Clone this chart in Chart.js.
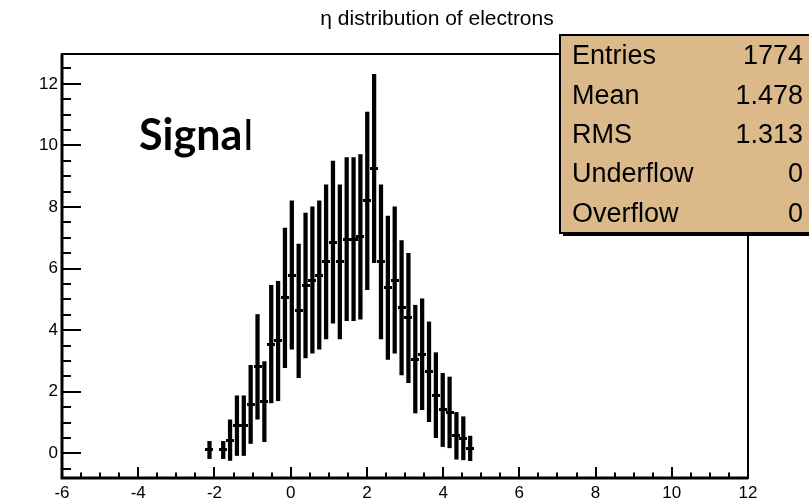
<!DOCTYPE html>
<html>
<head>
<meta charset="utf-8">
<title>η distribution of electrons</title>
<script src="https://cdn.jsdelivr.net/npm/chart.js@4.4.1/dist/chart.umd.min.js"></script>
<style>
  html, body { margin: 0; padding: 0; background: #fff; }
  #wrap { width: 809px; height: 502px; position: relative; }
</style>
</head>
<body>
<div id="wrap"><canvas id="c" width="809" height="502"></canvas></div>
<script>
// η bin centres (bin width 0.18) of the filled bins
const etaCenters = [-2.13, -1.77, -1.59, -1.41, -1.23, -1.05, -0.87, -0.69, -0.51, -0.33,
  -0.15, 0.03, 0.21, 0.39, 0.57, 0.75, 0.93, 1.11, 1.29, 1.47,
  1.65, 1.83, 2.01, 2.19, 2.37, 2.55, 2.73, 2.91, 3.09, 3.27,
  3.45, 3.63, 3.81, 3.99, 4.17, 4.35, 4.53, 4.71];

// bin contents
const binContents = [0.11, 0.11, 0.43, 0.90, 0.90, 1.59, 2.81, 1.68, 3.55, 3.65,
  5.05, 5.79, 4.63, 5.45, 5.63, 5.79, 6.22, 6.86, 6.22, 6.96,
  6.96, 7.03, 8.20, 9.25, 6.22, 5.38, 5.63, 4.73, 4.40, 3.06,
  3.22, 2.65, 1.89, 1.41, 1.33, 0.57, 0.49, 0.16];

// bin errors
const binErrors = [0.28, 0.28, 0.66, 0.97, 0.97, 1.27, 1.70, 1.30, 1.91, 1.94,
  2.27, 2.41, 2.17, 2.35, 2.38, 2.41, 2.50, 2.63, 2.50, 2.65,
  2.65, 2.67, 2.88, 3.06, 2.50, 2.33, 2.38, 2.18, 2.10, 1.75,
  1.80, 1.62, 1.38, 1.19, 1.15, 0.76, 0.70, 0.40];

// axis ranges and tick steps
const xRange = [-6, 12];
const yRange = [-0.8, 12.97];
const majorStep = 2;
const minorStep = 0.5;

// statistics box
const statLabels = ['Entries', 'Mean', 'RMS', 'Underflow', 'Overflow'];
const statValues = ['1774', '1.478', '1.313', '0', '0'];

const titleText = 'η distribution of electrons';
const FONT = '"Liberation Sans", Arial, Helvetica, sans-serif';

const errorBars = etaCenters.map((x, i) => ({ x: x, y: [binContents[i] - binErrors[i], binContents[i] + binErrors[i]] }));
const centres = etaCenters.map((x, i) => ({ x: x, y: binContents[i] }));

// short horizontal dash used as the bin-centre marker (one bin wide)
const dash = document.createElement('canvas');
dash.width = 8;
dash.height = 3;
(function () {
  const g = dash.getContext('2d');
  g.fillStyle = '#000';
  g.fillRect(0, 0, 8, 3);
})();

// inward tick marks, frame, title, stats box and label
const decorations = {
  id: 'decorations',
  afterDraw(chart) {
    const ctx = chart.ctx;
    const a = chart.chartArea;
    const xs = chart.scales.x, ys = chart.scales.y;
    ctx.save();
    ctx.strokeStyle = '#000';
    ctx.lineCap = 'butt';

    // x ticks (pointing up from the bottom axis)
    ctx.lineWidth = 2;
    for (let v = xRange[0]; v <= xRange[1] + 1e-9; v += minorStep) {
      const px = Math.round(xs.getPixelForValue(v));
      const major = Math.abs(v / majorStep - Math.round(v / majorStep)) < 1e-6;
      const len = major ? 11 : 5.5;
      ctx.beginPath();
      ctx.moveTo(px, a.bottom);
      ctx.lineTo(px, a.bottom - len);
      ctx.stroke();
    }
    // y ticks (pointing right from the left axis)
    for (let v = -0.5; v <= yRange[1] + 1e-9; v += minorStep) {
      const py = Math.round(ys.getPixelForValue(v));
      const major = Math.abs(v / majorStep - Math.round(v / majorStep)) < 1e-6;
      const len = major ? 19 : 9;
      ctx.beginPath();
      ctx.moveTo(a.left, py);
      ctx.lineTo(a.left + len, py);
      ctx.stroke();
    }

    // frame
    ctx.lineWidth = 2;
    ctx.strokeRect(a.left, a.top, a.right - a.left, a.bottom - a.top);
    ctx.lineWidth = 3;
    ctx.beginPath();
    ctx.moveTo(a.left, a.top);
    ctx.lineTo(a.left, a.bottom);
    ctx.lineTo(a.right, a.bottom);
    ctx.stroke();

    // title
    ctx.fillStyle = '#000';
    ctx.font = '21px ' + FONT;
    ctx.textAlign = 'center';
    ctx.textBaseline = 'middle';
    ctx.fillText(titleText, 437, 19);

    // "Signal"
    ctx.textAlign = 'left';
    ctx.textBaseline = 'alphabetic';
    ctx.font = 'bold 43px Lato, "Open Sans", sans-serif';
    ctx.fillText('Signa', 139, 150);
    const w = ctx.measureText('Signa').width;
    ctx.font = '43px Lato, "Open Sans", sans-serif';
    ctx.fillText('l', 139 + w + 1, 150);

    // statistics box with shadow
    const bx = 560, by = 35, bw = 260, bh = 198;
    ctx.fillStyle = '#000';
    ctx.fillRect(bx + 3, by + bh, bw, 3);
    ctx.fillStyle = '#dbb98b';
    ctx.fillRect(bx, by, bw, bh);
    ctx.lineWidth = 2;
    ctx.strokeStyle = '#000';
    ctx.strokeRect(bx, by, bw, bh);
    ctx.fillStyle = '#000';
    ctx.font = '27px ' + FONT;
    ctx.textBaseline = 'middle';
    statLabels.forEach((lab, i) => {
      const ty = 57 + i * 39.3;
      ctx.textAlign = 'left';
      ctx.fillText(lab, 572, ty);
      ctx.textAlign = 'right';
      ctx.fillText(statValues[i], 803, ty);
    });
    ctx.restore();
  }
};

new Chart(document.getElementById('c'), {
  type: 'bar',
  data: {
    datasets: [
      {
        type: 'scatter',
        data: centres,
        showLine: false,
        pointStyle: dash,
        pointRadius: 4,
        pointHoverRadius: 4,
        order: 0
      },
      {
        type: 'bar',
        data: errorBars,
        backgroundColor: '#000',
        borderWidth: 0,
        barThickness: 3.6,
        grouped: false,
        order: 1
      }
    ]
  },
  options: {
    responsive: false,
    animation: false,
    events: [],
    layout: { padding: { top: 54, right: 61, left: 0, bottom: 0 } },
    plugins: { legend: { display: false }, tooltip: { enabled: false }, title: { display: false } },
    scales: {
      x: {
        type: 'linear',
        min: xRange[0],
        max: xRange[1],
        offset: false,
        grid: { display: false, drawTicks: false },
        border: { display: false },
        ticks: {
          stepSize: majorStep,
          includeBounds: false,
          autoSkip: false,
          maxRotation: 0,
          padding: 5,
          color: '#000',
          font: { family: FONT, size: 17 }
        },
        afterFit(scale) { scale.height = 24; }
      },
      y: {
        type: 'linear',
        min: yRange[0],
        max: yRange[1],
        grid: { display: false, drawTicks: false },
        border: { display: false },
        ticks: {
          stepSize: majorStep,
          includeBounds: false,
          autoSkip: false,
          padding: 4,
          color: '#000',
          font: { family: FONT, size: 17 }
        },
        afterFit(scale) { scale.width = 62; }
      }
    }
  },
  plugins: [decorations]
});
</script>
</body>
</html>
